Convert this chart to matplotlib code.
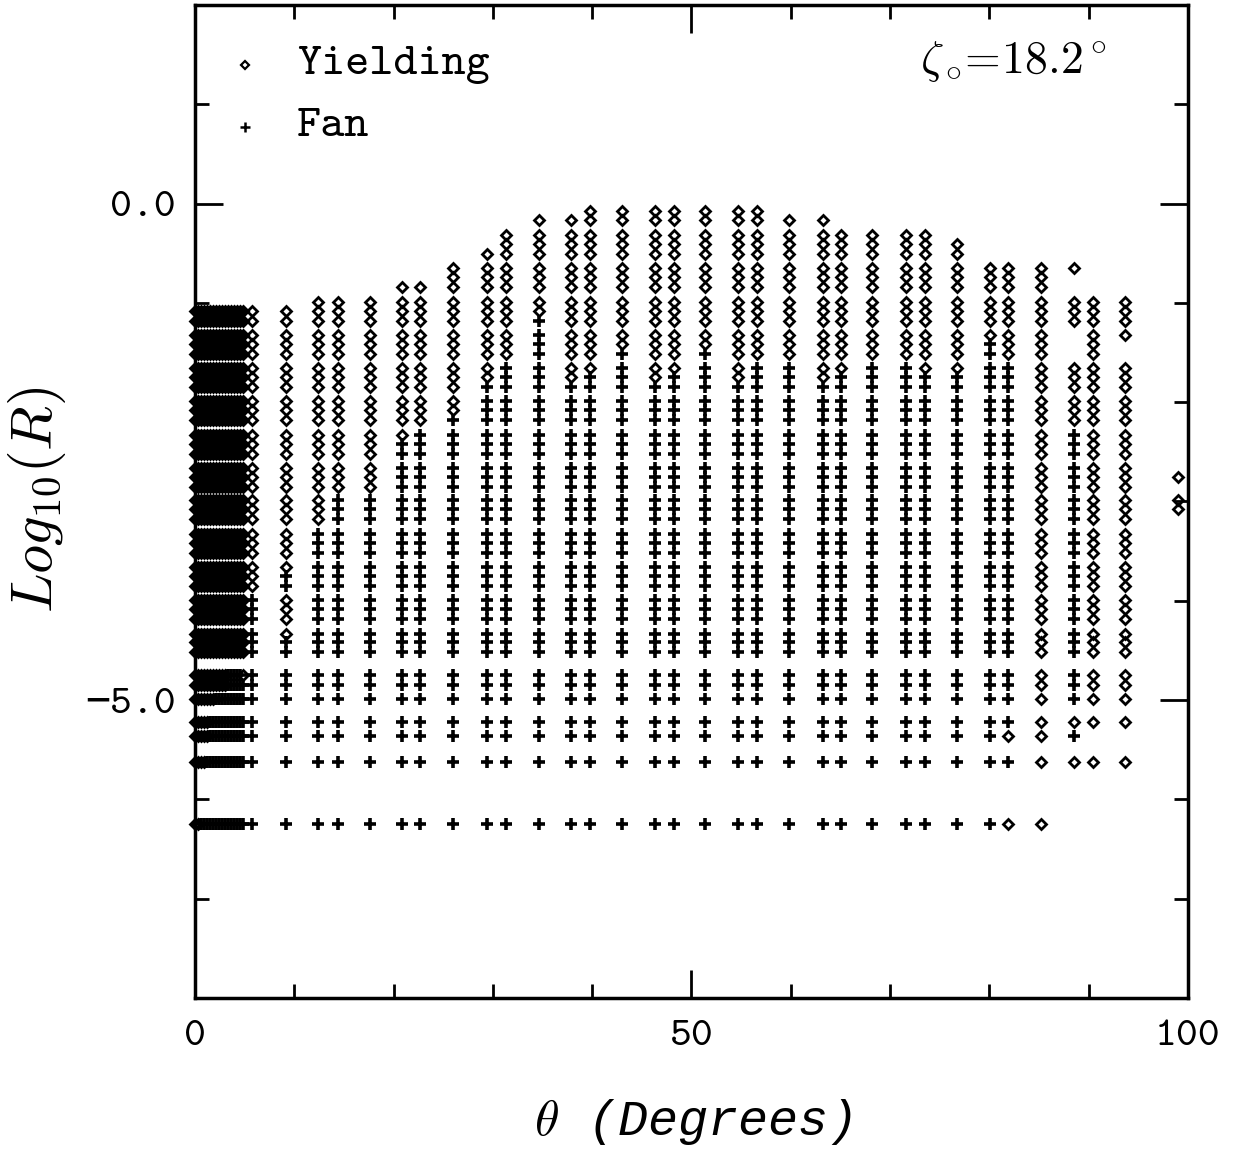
import matplotlib
matplotlib.use('Agg')
import matplotlib.pyplot as plt
from matplotlib.ticker import MultipleLocator, FuncFormatter

plt.rcParams['mathtext.fontset'] = 'cm'
plt.rcParams['font.family'] = ['cmtt10', 'DejaVu Sans Mono']

# -----------------
# DATA
# -----------------
# log10(R) levels sampled along every column
levels = [-0.07, -0.17,
          -0.32, -0.41, -0.51,
          -0.65, -0.74, -0.84,
          -0.99, -1.08, -1.18,
          -1.32, -1.41, -1.51,
          -1.66, -1.75, -1.85,
          -1.99, -2.08, -2.18,
          -2.33, -2.42, -2.52,
          -2.66, -2.75, -2.85,
          -2.99, -3.08, -3.18,
          -3.33, -3.42, -3.52,
          -3.66, -3.75, -3.85,
          -3.99, -4.08, -4.18,
          -4.33, -4.42, -4.52,
          -4.75, -4.85, -4.99,
          -5.22, -5.36, -5.62, -6.25]

# regular columns: yielding from top down to ylo, fan below it
col_x = [0.0, 0.3, 0.6, 0.9, 1.2, 1.5, 1.8, 2.1, 2.4, 2.7, 3.0, 3.3, 3.6, 3.9, 4.2, 4.5, 4.8,
         5.7, 12.4, 14.4, 17.6, 20.8, 22.7, 26.0, 29.4, 31.3, 34.6, 37.9, 39.8, 43.0,
         46.3, 48.2, 51.4, 54.7, 56.6, 59.8, 63.2, 65.1, 68.2, 71.6, 73.5, 76.7, 80.1]
col_top = [-1.08] * 18 + [-0.99, -0.99, -0.99, -0.84, -0.84, -0.65, -0.51, -0.32, -0.17,
                          -0.17, -0.07, -0.07, -0.07, -0.07, -0.07, -0.07, -0.07, -0.17,
                          -0.17, -0.32, -0.32, -0.32, -0.32, -0.41, -0.65]
col_ylo = [-6.25, -6.25, -5.62, -5.62, -5.36, -4.99, -4.99, -4.85, -4.85, -4.85, -4.85,
           -4.52, -4.52, -4.52, -4.52, -4.52, -4.75,
           -3.85, -3.18, -2.85, -2.85, -2.33, -2.18, -2.08, -1.75, -1.51, -1.08, -1.75,
           -1.66, -1.41, -1.75, -1.66, -1.41, -1.75, -1.51, -1.51, -1.75, -1.66, -1.51,
           -1.51, -1.66, -1.66, -1.32]
col_bottom = -6.25

# irregular columns, as runs of levels
seg_x = [9.2, 9.2, 9.2, 9.2,
         81.9, 81.9, 81.9, 81.9, 81.9,
         85.2,
         88.5, 88.5, 88.5, 88.5, 88.5, 88.5, 88.5,
         90.4, 90.4,
         93.7, 93.7, 93.7,
         99.0, 99.0]
seg_hi = [-1.08, -3.75, -3.99, -4.42,
          -0.65, -1.66, -5.36, -5.62, -6.25,
          -0.65,
          -0.65, -0.99, -1.66, -2.33, -5.22, -5.36, -5.62,
          -0.99, -5.62,
          -0.99, -1.66, -5.62,
          -2.75, -2.99]
seg_lo = [-3.66, -3.85, -4.33, -6.25,
          -1.51, -5.22, -5.36, -5.62, -6.25,
          -6.25,
          -0.65, -1.18, -2.18, -4.99, -5.22, -5.36, -5.62,
          -5.22, -5.62,
          -1.32, -5.22, -5.62,
          -2.75, -3.08]
seg_kind = ['Y', 'F', 'Y', 'F',
            'Y', 'F', 'Y', 'F', 'Y',
            'Y',
            'Y', 'Y', 'Y', 'F', 'Y', 'F', 'Y',
            'Y', 'Y',
            'Y', 'Y', 'Y',
            'Y', 'Y']

# -----------------
# BUILD POINTS
# -----------------
pts = {'Y': ([], []), 'F': ([], [])}

def add_run(x, hi, lo, kind):
    for y in levels:
        if lo - 0.005 <= y <= hi + 0.005:
            pts[kind][0].append(x)
            pts[kind][1].append(y)

for x, top, ylo in zip(col_x, col_top, col_ylo):
    add_run(x, top, ylo, 'Y')
    add_run(x, ylo - 0.03, col_bottom, 'F')

for x, hi, lo, k in zip(seg_x, seg_hi, seg_lo, seg_kind):
    add_run(x, hi, lo, k)

# -----------------
# PLOT
# -----------------
fig = plt.figure(figsize=(12.35, 11.52), dpi=100)
ax = fig.add_axes([0.1579, 0.1337, 0.804, 0.862])

ax.plot(pts['F'][0], pts['F'][1], ls='none', marker='+', ms=8, mew=2.6,
        color='k', clip_on=False)
ax.plot(pts['Y'][0], pts['Y'][1], ls='none', marker='D', ms=5.4, mew=2.0,
        mfc='none', mec='k', clip_on=False)

ax.set_xlim(0, 100)
ax.set_ylim(-8, 2)
ax.xaxis.set_major_locator(MultipleLocator(50))
ax.xaxis.set_minor_locator(MultipleLocator(10))
ax.yaxis.set_major_locator(MultipleLocator(5))
ax.yaxis.set_minor_locator(MultipleLocator(1))
ax.xaxis.set_major_formatter(FuncFormatter(lambda v, p: f'{v:.0f}'))
ax.yaxis.set_major_formatter(FuncFormatter(lambda v, p: f'{v:.1f}'.replace('-', '\u2212')))
ax.tick_params(which='both', direction='in', top=True, right=True, width=2, labelsize=30)
ax.tick_params(which='major', length=20)
ax.tick_params(which='minor', length=10)
ax.tick_params(axis='x', pad=16)
ax.tick_params(axis='y', pad=14)
for s in ax.spines.values():
    s.set_linewidth(2.5)

# legend, drawn by hand
ax.plot([0.050], [0.9396], transform=ax.transAxes, ls='none', marker='D', ms=3.8,
        mew=1.6, mfc='none', mec='k', clip_on=False)
ax.plot([0.050], [0.877], transform=ax.transAxes, ls='none', marker='+', ms=6.5,
        mew=1.8, color='k', clip_on=False)
ax.text(0.103, 0.9396, 'Yielding', transform=ax.transAxes, fontsize=33, va='center')
ax.text(0.103, 0.877, 'Fan', transform=ax.transAxes, fontsize=33, va='center')
ax.text(0.919, 0.9426, r'$\zeta_\circ\!\!=\!18.2^\circ$', transform=ax.transAxes,
        fontsize=33, ha='right', va='center')

fig.text(37 / 1235, 1 - 500 / 1152, r'$Log_{10}(R)$', rotation=90, fontsize=42,
         ha='center', va='center')
fig.text(693 / 1235, 1 - 1122 / 1152, r'$\theta$ (Degrees)', fontsize=36,
         family=['Liberation Mono', 'DejaVu Sans'], style='italic',
         ha='center', va='center')

fig.savefig('out.png', dpi=100)
